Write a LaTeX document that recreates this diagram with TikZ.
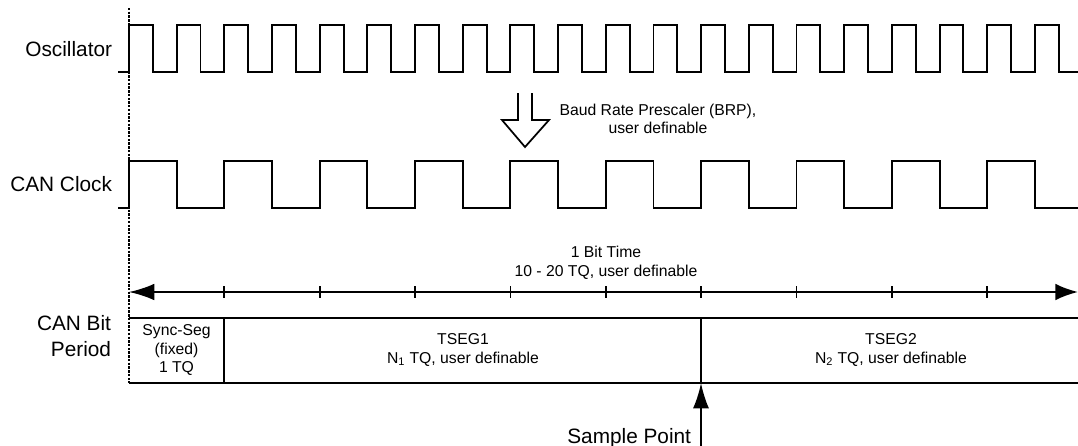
\documentclass[tikz,border=0pt]{standalone}
\usepackage{fontspec}
\setmainfont{Liberation Sans}
\usetikzlibrary{arrows.meta}
\begin{document}
\begin{tikzpicture}[x=0.75pt,y=-0.75pt,line width=1.45pt,line join=miter,
  wave/.style={line width=1.45pt},
  guide/.style={line width=1.4pt,dash pattern=on 1.8pt off 1pt},
  biglabel/.style={inner sep=0pt,font=\fontsize{15.6pt}{19.5pt}\selectfont,align=right},
  smalllabel/.style={inner sep=0pt,font=\fontsize{11.8pt}{14pt}\selectfont,align=center},
  tick/.style={line width=1.35pt},
  hollow/.style={line width=1.3pt,fill=white}]
\useasboundingbox (0,0) rectangle (1078,446);

% time reference line
\draw[guide] (129,8) -- (129,383);

% oscillator waveform: 20 pulses
\draw[wave] (118,72)
  \foreach \i in {0,...,19} {
    -- ({129+\i*47.68},72) -- ({129+\i*47.68},25)
    -- ({152.84+\i*47.68},25) -- ({152.84+\i*47.68},72) }
  -- (1078,72);

% CAN clock waveform: 10 pulses
\draw[wave] (118,208)
  \foreach \i in {0,...,9} {
    -- ({129+\i*95.36},208) -- ({129+\i*95.36},161)
    -- ({176.68+\i*95.36},161) -- ({176.68+\i*95.36},208) }
  -- (1078,208);

% labels on the left
\node[biglabel,anchor=east] (osc) at (113,49) {Oscillator};
\node[biglabel,anchor=east] (clk) at (113,184) {CAN Clock};
\node[biglabel,anchor=east] (bitp) at (112,336) {CAN Bit\\Period};

% prescaler arrow
\draw[hollow] (518,93) -- (518,120) -- (502,120) -- (525,147) -- (549,120) -- (532,120) -- (532,93);
\node[smalllabel] (brp) at (658,119) {Baud Rate Prescaler (BRP),\\user definable};

% bit time span
\coordinate (bitL) at (129,292);
\coordinate (bitR) at (1078,292);
\draw[{Latex[length=19pt,width=12.5pt]}-{Latex[length=17pt,width=12.5pt]}] (bitL) -- (bitR);
\foreach \k in {1,...,9} {
  \draw[tick] ({129+\k*95.36},286) -- ({129+\k*95.36},298);
}
\node[smalllabel] (bittime) at (606,263) {1 Bit Time\\10 - 20 TQ, user definable};

% bit period segments
\draw (129,318) -- (1078,318);
\draw (129,383) -- (1078,383);
\draw (224.4,318) -- (224.4,383);
\coordinate (spTop) at (701,318);
\coordinate (spBox) at (701,383);
\draw (spTop) -- (spBox);
\node[smalllabel] (sync) at (176.5,350) {Sync-Seg\\(fixed)\\1 TQ};
\node[smalllabel] (tseg1) at (463,350) {TSEG1\\N\textsubscript{1} TQ, user definable};
\node[smalllabel] (tseg2) at (891,350) {TSEG2\\N\textsubscript{2} TQ, user definable};

% sample point marker
\coordinate (spFoot) at (701,446);
\draw[{Latex[length=19pt,width=12pt]}-] (spBox) -- (spFoot);
\node[biglabel,anchor=base east] (sample) at (692,443) {Sample Point};
\end{tikzpicture}
\end{document}
